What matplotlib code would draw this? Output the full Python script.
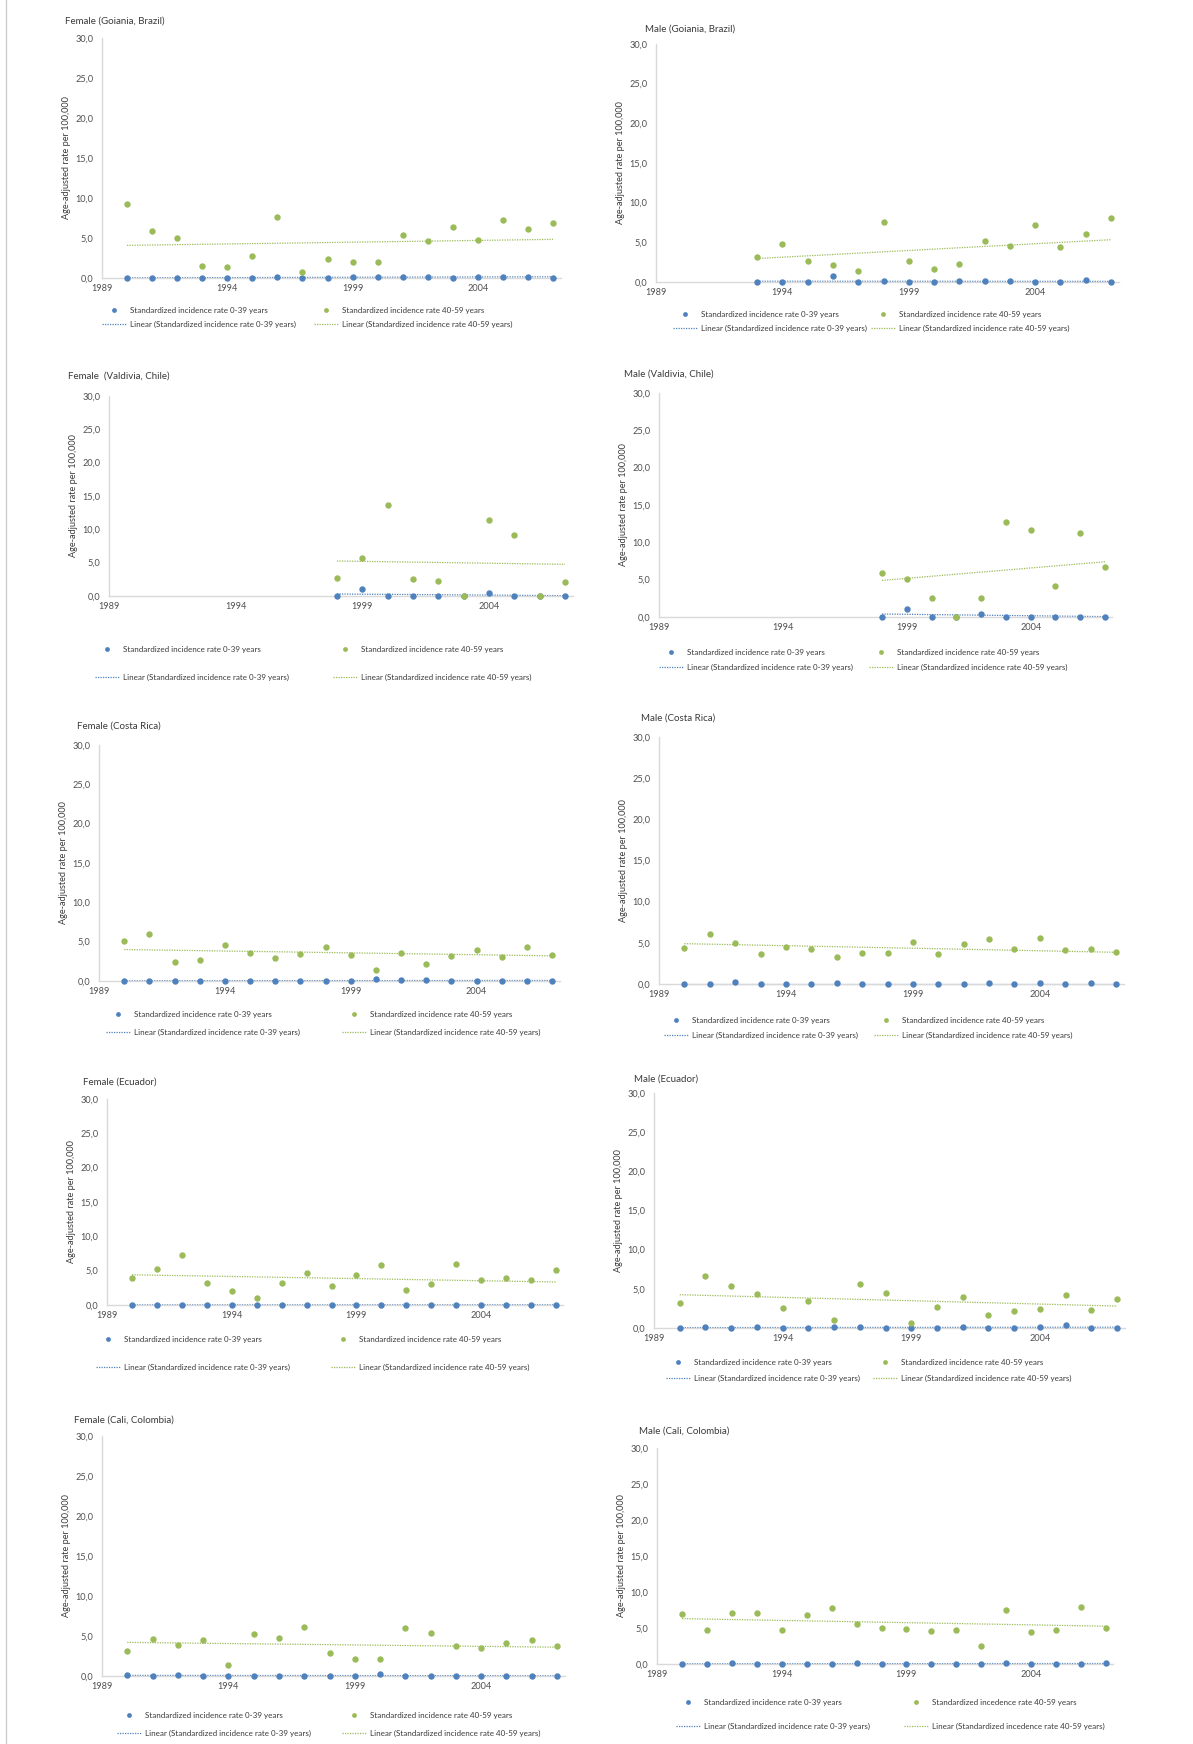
import numpy as np
import matplotlib.pyplot as plt
from matplotlib.lines import Line2D

plt.rcParams['font.family'] = ['Lato', 'DejaVu Sans']

W, H = 1193, 1744

years = [1990, 1991, 1992, 1993, 1994, 1995, 1996, 1997, 1998,
         1999, 2000, 2001, 2002, 2003, 2004, 2005, 2006, 2007]

# Goiania, Brazil (female 1990-2007, male 1993-2007)
goiania_f_young = [0, 0, 0, 0, 0, 0, 0.15, 0, 0, 0.15, 0.15, 0.15, 0.15, 0, 0.15, 0.15, 0.15, 0]
goiania_f_old = [9.2, 5.9, 5.0, 1.45, 1.4, 2.7, 7.6, 0.8, 2.4, 1.95, 1.95, 5.4, 4.6, 6.4, 4.7, 7.2, 6.1, 6.9]
goiania_m_young = [0, 0, 0, 0.7, 0, 0.1, 0, 0, 0.1, 0.1, 0.1, 0, 0, 0.3, 0]
goiania_m_old = [3.2, 4.75, 2.6, 2.2, 1.4, 7.6, 2.7, 1.7, 2.25, 5.2, 4.6, 7.2, 4.4, 6.0, 8.1]

# Valdivia, Chile (1998-2007)
valdivia_f_young = [0, 1.1, 0, 0, 0, 0, 0.45, 0, 0, 0]
valdivia_f_old = [2.7, 5.7, 13.7, 2.55, 2.3, 0, 11.4, 9.15, 0, 2.05]
valdivia_m_young = [0, 1.1, 0, 0, 0.45, 0, 0, 0, 0, 0]
valdivia_m_old = [5.9, 5.1, 2.6, 0, 2.5, 12.7, 11.7, 4.2, 11.3, 6.65]

# Costa Rica
costa_f_young = [0, 0.05, 0.05, 0.05, 0, 0, 0, 0.05, 0.05, 0.05, 0.2, 0.15, 0.15, 0, 0.05, 0.05, 0, 0]
costa_f_old = [5.1, 6.0, 2.45, 2.65, 4.6, 3.5, 2.95, 3.4, 4.3, 3.25, 1.35, 3.6, 2.1, 3.2, 3.95, 3.1, 4.3, 3.25]
costa_m_young = [0, 0, 0.2, 0, 0, 0, 0.1, 0, 0, 0, 0, 0, 0.1, 0, 0.1, 0, 0.1, 0]
costa_m_old = [4.35, 6.1, 5.0, 3.6, 4.55, 4.2, 3.3, 3.8, 3.8, 5.05, 3.6, 4.85, 5.5, 4.2, 5.6, 4.1, 4.3, 3.9]

# Ecuador
ecuador_f_young = [0.05, 0, 0, 0, 0.05, 0.05, 0, 0, 0, 0.05, 0, 0.05, 0, 0.05, 0.05, 0, 0.05, 0]
ecuador_f_old = [4.0, 5.25, 7.35, 3.25, 2.1, 1.05, 3.25, 4.7, 2.7, 4.3, 5.8, 2.25, 3.0, 6.0, 3.7, 4.0, 3.6, 5.15]
ecuador_m_young = [0, 0.1, 0, 0.1, 0, 0, 0.1, 0.1, 0, 0.05, 0, 0.1, 0, 0, 0.1, 0.4, 0, 0]
ecuador_m_old = [3.2, 6.6, 5.4, 4.4, 2.55, 3.5, 1.05, 5.6, 4.5, 0.65, 2.65, 4.0, 1.65, 2.15, 2.45, 4.2, 2.35, 3.75]

# Cali, Colombia
cali_f_young = [0.15, 0, 0.15, 0, 0, 0, 0.05, 0, 0.05, 0, 0.25, 0, 0, 0, 0.05, 0, 0, 0]
cali_f_old = [3.1, 4.6, 3.9, 4.45, 1.35, 5.2, 4.7, 6.1, 2.9, 2.15, 2.1, 6.0, 5.4, 3.7, 3.45, 4.1, 4.55, 3.8]
cali_m_young = [0, 0, 0.1, 0, 0, 0.05, 0, 0.1, 0, 0, 0.05, 0, 0, 0.2, 0, 0, 0, 0.1]
cali_m_old = [7.0, 4.7, 7.05, 7.05, 4.7, 6.8, 7.75, 5.5, 5.0, 4.85, 4.6, 4.7, 2.5, 7.45, 4.5, 4.75, 7.85, 5.0]

# linear trendlines as drawn in the original (value at first and last year)
goiania_f_trend_young = [0.02, 0.15]
goiania_f_trend_old = [4.08, 4.83]
goiania_m_trend_young = [0.1, 0.08]
goiania_m_trend_old = [2.96, 5.33]
valdivia_f_trend_young = [0.3, 0.05]
valdivia_f_trend_old = [5.25, 4.75]
valdivia_m_trend_young = [0.4, 0.05]
valdivia_m_trend_old = [4.9, 7.4]
costa_f_trend_young = [0.03, 0.07]
costa_f_trend_old = [4.0, 3.2]
costa_m_trend_young = [0.05, 0.05]
costa_m_trend_old = [4.9, 3.85]
ecuador_f_trend_young = [0.02, 0.03]
ecuador_f_trend_old = [4.4, 3.35]
ecuador_m_trend_young = [0.05, 0.1]
ecuador_m_trend_old = [4.25, 2.8]
cali_f_trend_young = [0.08, 0.03]
cali_f_trend_old = [4.2, 3.6]
cali_m_trend_young = [0.03, 0.07]
cali_m_trend_old = [6.3, 5.25]

label_young = 'Standardized incidence rate 0-39 years'
label_old = 'Standardized incidence rate 40-59 years'
label_old_typo = 'Standardized incedence rate 40-59 years'

BLUE = '#4f81bd'
GREEN = '#9bbb59'
TEXT = '#3a3a3a'
AXIS = '#d9d9d9'

# pixel layout: axis left, y of 30,0, y of 0,0, x of 2007, title pos, legend columns and rows
panels = [
    dict(title='Female (Goiania, Brazil)', yrs=years, young=goiania_f_young, old=goiania_f_old,
         ty_=goiania_f_trend_young, to_=goiania_f_trend_old,
         left=102, top=38, bottom=278, x2007=553, tx=65, ty=21, lx=(102, 314), ly=(309, 326), lab=label_old),
    dict(title='Male (Goiania, Brazil)', yrs=years[3:], young=goiania_m_young, old=goiania_m_old,
         ty_=goiania_m_trend_young, to_=goiania_m_trend_old,
         left=656, top=44, bottom=282, x2007=1111, tx=645, ty=29, lx=(673, 871), ly=(313, 330), lab=label_old),
    dict(title='Female  (Valdivia, Chile)', yrs=years[8:], young=valdivia_f_young, old=valdivia_f_old,
         ty_=valdivia_f_trend_young, to_=valdivia_f_trend_old,
         left=109, top=396, bottom=596, x2007=565, tx=68, ty=376, lx=(95, 333), ly=(648, 679), lab=label_old),
    dict(title='Male (Valdivia, Chile)', yrs=years[8:], young=valdivia_m_young, old=valdivia_m_old,
         ty_=valdivia_m_trend_young, to_=valdivia_m_trend_old,
         left=659, top=393, bottom=617, x2007=1105, tx=624, ty=374, lx=(659, 869), ly=(651, 669), lab=label_old),
    dict(title='Female (Costa Rica)', yrs=years, young=costa_f_young, old=costa_f_old,
         ty_=costa_f_trend_young, to_=costa_f_trend_old,
         left=99, top=745, bottom=981, x2007=552, tx=77, ty=726, lx=(106, 342), ly=(1013, 1034), lab=label_old),
    dict(title='Male (Costa Rica)', yrs=years, young=costa_m_young, old=costa_m_old,
         ty_=costa_m_trend_young, to_=costa_m_trend_old,
         left=659, top=737, bottom=984, x2007=1116, tx=641, ty=718, lx=(664, 874), ly=(1019, 1037), lab=label_old),
    dict(title='Female (Ecuador)', yrs=years, young=ecuador_f_young, old=ecuador_f_old,
         ty_=ecuador_f_trend_young, to_=ecuador_f_trend_old,
         left=107, top=1099, bottom=1305, x2007=556, tx=83, ty=1082, lx=(96, 331), ly=(1338, 1369), lab=label_old),
    dict(title='Male (Ecuador)', yrs=years, young=ecuador_m_young, old=ecuador_m_old,
         ty_=ecuador_m_trend_young, to_=ecuador_m_trend_old,
         left=654, top=1093, bottom=1328, x2007=1117, tx=634, ty=1079, lx=(666, 873), ly=(1361, 1380), lab=label_old),
    dict(title='Female (Cali, Colombia)', yrs=years, young=cali_f_young, old=cali_f_old,
         ty_=cali_f_trend_young, to_=cali_f_trend_old,
         left=102, top=1436, bottom=1676, x2007=557, tx=74, ty=1420, lx=(117, 342), ly=(1714, 1735), lab=label_old),
    dict(title='Male (Cali, Colombia)', yrs=years, young=cali_m_young, old=cali_m_old,
         ty_=cali_m_trend_young, to_=cali_m_trend_old,
         left=657, top=1448, bottom=1664, x2007=1106, tx=639, ty=1431, lx=(676, 904), ly=(1701, 1728), lab=label_old_typo),
]

fig = plt.figure(figsize=(W / 100, H / 100), dpi=100)

# faint frame line on the left of the page
fig.add_artist(Line2D([6 / W, 6 / W], [0, 1], color='#cccccc', lw=1))

FS = 5.8
fs_px = FS * 100 / 72
DOT = (0, (1, 1))


def draw_panel(p):
    x0, x1 = p['left'], p['x2007']
    per_year = (x1 - x0) / 18
    right = x1 + 0.3 * per_year
    ax = fig.add_axes([x0 / W, 1 - p['bottom'] / H, (right - x0) / W, (p['bottom'] - p['top']) / H])
    ax.set_xlim(1989, 2007.3)
    ax.set_ylim(0, 30)

    xs = p['yrs']
    ends = [xs[0], xs[-1]]

    ax.plot(ends, p['ty_'], ls=DOT, color=BLUE, lw=0.9, clip_on=False, zorder=2)
    ax.plot(ends, p['to_'], ls=DOT, color=GREEN, lw=0.9, clip_on=False, zorder=2)
    ax.plot(xs, p['young'], 'o', color=BLUE, ms=4.6, mec='none', clip_on=False, zorder=3)
    ax.plot(xs, p['old'], 'o', color=GREEN, ms=4.6, mec='none', clip_on=False, zorder=3)

    for s in ['top', 'right']:
        ax.spines[s].set_visible(False)
    for s in ['left', 'bottom']:
        ax.spines[s].set_color(AXIS)
        ax.spines[s].set_linewidth(1)

    yt = [0, 5, 10, 15, 20, 25, 30]
    ax.set_yticks(yt)
    ax.set_yticklabels([f'{v:.1f}'.replace('.', ',') for v in yt])
    ax.set_xticks([1989, 1994, 1999, 2004])
    ax.tick_params(length=0, labelsize=6.6, labelcolor='#505050')
    ax.tick_params(axis='y', pad=6)
    ax.tick_params(axis='x', pad=4)
    ax.set_ylabel('Age-adjusted rate per 100,000', fontsize=6.6, color=TEXT, labelpad=3)

    fig.text(p['tx'] / W, 1 - p['ty'] / H, p['title'], fontsize=7, color=TEXT, va='center', ha='left')

    # legend: two columns, dots on top row and trendlines underneath
    gap = p['ly'][1] - p['ly'][0]
    mid = (p['ly'][0] + p['ly'][1]) / 2
    kw = dict(frameon=False, fontsize=FS, handlelength=3.0, handletextpad=0.5, borderpad=0,
              borderaxespad=0, labelspacing=max(gap / fs_px - 1.25, 0.2), loc='center left',
              bbox_transform=fig.transFigure, labelcolor=TEXT, numpoints=1, markerscale=0.75)
    h1 = Line2D([], [], color=BLUE, marker='o', ls='none', ms=4.6, mec='none')
    h2 = Line2D([], [], color=BLUE, ls=DOT, lw=0.9)
    h3 = Line2D([], [], color=GREEN, marker='o', ls='none', ms=4.6, mec='none')
    h4 = Line2D([], [], color=GREEN, ls=DOT, lw=0.9)
    leg1 = ax.legend([h1, h2], [label_young, 'Linear (' + label_young + ')'],
                     bbox_to_anchor=(p['lx'][0] / W, 1 - mid / H), **kw)
    ax.add_artist(leg1)
    ax.legend([h3, h4], [p['lab'], 'Linear (' + p['lab'] + ')'],
              bbox_to_anchor=(p['lx'][1] / W, 1 - mid / H), **kw)


for p in panels:
    draw_panel(p)

fig.savefig('out.png', dpi=100, facecolor='white')
